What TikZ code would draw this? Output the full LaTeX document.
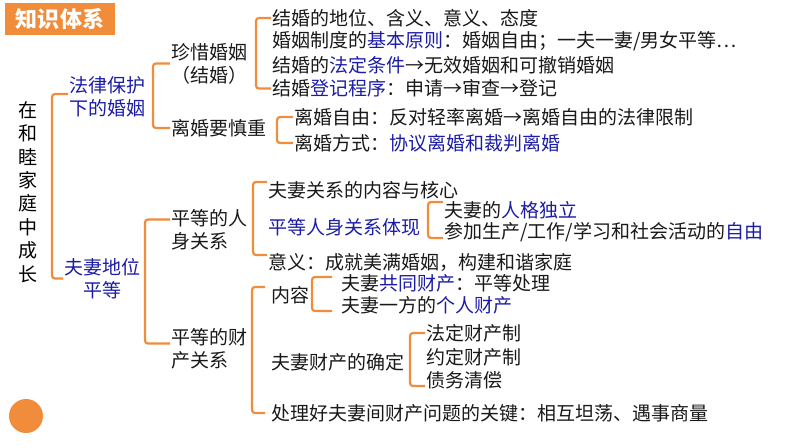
\documentclass[tikz,border=0pt]{standalone}
\usepackage{fontspec}
\setmainfont{Noto Sans CJK SC}
\usetikzlibrary{positioning}
\definecolor{knorange}{RGB}{240,140,58}
\definecolor{knblue}{RGB}{28,28,165}

\begin{document}
\begin{tikzpicture}[x=1pt, y=-1pt]
% STYLES
\tikzset{
    leaf/.style={anchor=west, inner sep=1pt, text=black!90,
    font=\fontsize{19}{23}\selectfont},
    keyw/.style={leaf, text=knblue},
    twoline/.style={leaf, align=left},
    brk/.style={draw=knorange, line width=2.2pt, rounded corners=3pt}
}
\useasboundingbox (0,0) rectangle (794,447);

\node [fill=knorange, text=white, minimum width=110pt, minimum height=32pt,
  inner sep=0pt, font=\fontsize{22}{22}\selectfont\bfseries] (title) at (60,19) {知识体系};
\node [align=center, inner sep=0pt, font=\fontsize{19}{23.4}\selectfont] (root) at (28,192)
  {在\\和\\睦\\家\\庭\\中\\成\\长};
\node [circle, fill=knorange, minimum size=34pt, inner sep=0pt] (dot) at (26,416) {};

% level one
\node [keyw, align=left] (law) at (68,97) {法律保护\\下的婚姻};
\node [keyw, align=center] (equal) at (63,278.5) {夫妻地位\\平等};

% marriage
\node [twoline] (cherish) at (170,63.5) {珍惜婚姻\\（结婚）};
\node [leaf] (divorce) at (170,128) {离婚要慎重};
\node [leaf] (m1) at (271,18) {结婚的地位、含义、意义、态度};
\node [leaf] (m2) at (271,41.5) {婚姻制度的\textcolor{knblue}{基本原则}：婚姻自由；一夫一妻/男女平等⋯};
\node [leaf] (m3) at (271,65) {结婚的\textcolor{knblue}{法定条件}→无效婚姻和可撤销婚姻};
\node [leaf] (m4) at (271,88.5) {结婚\textcolor{knblue}{登记程序}：申请→审查→登记};
\node [leaf] (d1) at (293,117) {离婚自由：反对轻率离婚→离婚自由的法律限制};
\node [leaf] (d2) at (293,143) {离婚方式：\textcolor{knblue}{协议离婚和裁判离婚}};

% equality
\node [twoline] (person) at (170,229.5) {平等的人\\身关系};
\node [twoline] (property) at (170,348.5) {平等的财\\产关系};
\node [leaf] (p1) at (267,190) {夫妻关系的内容与核心};
\node [keyw] (p2) at (267,227) {平等人身关系体现};
\node [leaf] (p3) at (267,262) {意义：成就美满婚姻，构建和谐家庭};
\node [leaf] (q1) at (443,210) {夫妻的\textcolor{knblue}{人格独立}};
\node [leaf] (q2) at (443,232) {参加生产/工作/学习和社会活动的\textcolor{knblue}{自由}};
\node [leaf] (r1) at (270,295) {内容};
\node [leaf] (r2) at (270,362) {夫妻财产的确定};
\node [leaf] (r3) at (270,413) {处理好夫妻间财产问题的关键：相互坦荡、遇事商量};
\node [leaf] (s1) at (340,283) {夫妻\textcolor{knblue}{共同财产}：平等处理};
\node [leaf] (s2) at (340,305) {夫妻一方的\textcolor{knblue}{个人财产}};
\node [leaf] (t1) at (425,333) {法定财产制};
\node [leaf] (t2) at (425,357) {约定财产制};
\node [leaf] (t3) at (425,380) {债务清偿};

% brackets
\draw [brk] ([yshift=3pt]law.west) -- ++(-16,0) |- (equal.west);
\draw [brk] (cherish.west) -- ++(-17,0) |- (divorce.west);
\draw [brk] (m1.west) -- ++(-15,0) |- (m4.west);
\draw [brk] (d1.west) -- ++(-16,0) |- (d2.west);
\draw [brk] ([yshift=10pt]person.west) -- ++(-25,0) |- ([yshift=5pt]property.west);
\draw [brk] ([yshift=8pt]p1.west) -- ++(-14,0) |- ([yshift=7pt]p3.west);
\draw [brk] ([yshift=8pt]q1.west) -- ++(-15,0) |- ([yshift=-6pt]q2.west);
\draw [brk] ([shift={(-5pt,8pt)}]r1.west) -- ++(-13,0) |- ([xshift=-5pt]r3.west);
\draw [brk] ([shift={(-8pt,6pt)}]s1.west) -- ++(-20,0) |- ([shift={(-8pt,-6pt)}]s2.west);
\draw [brk] (t1.west) -- ++(-15,0) |- ([yshift=-6pt]t3.west);

\end{tikzpicture}
\end{document}
